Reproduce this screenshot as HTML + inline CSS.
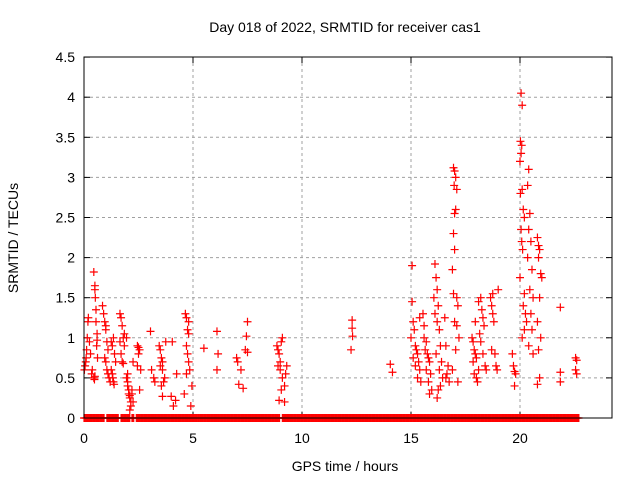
<!DOCTYPE html>
<html><head><meta charset="utf-8"><style>
body{margin:0;background:#fff}
svg text{font-family:"Liberation Sans",sans-serif;font-size:14px;fill:#000}
</style></head><body>
<svg id="c" width="640" height="480">
<text x="345" y="32" text-anchor="middle">Day 018 of 2022, SRMTID for receiver cas1</text>
<text x="345" y="471" text-anchor="middle">GPS time / hours</text>
<text transform="translate(18,238) rotate(-90)" text-anchor="middle">SRMTID / TECUs</text>
<g id="grid"></g><g id="pts"></g>
<rect x="84" y="57" width="528" height="361" fill="none" stroke="#000"/>
</svg>
<script>
const xTicks=[0,5,10,15,20];
const yTicks=[0,0.5,1,1.5,2,2.5,3,3.5,4,4.5];
const yTickLabels=["0","0.5","1","1.5","2","2.5","3","3.5","4","4.5"];
const hours=[0.02,0.05,0.08,0.1,0.12,0.15,0.18,0.2,0.25,0.3,0.35,0.38,
0.45,0.5,0.5,0.52,0.55,0.55,0.6,0.6,0.62,0.45,0.48,0.5,0.58,
0.85,0.9,0.95,1.0,1.05,1.1,1.0,1.05,1.1,1.15,1.2,0.95,1.0,
1.25,1.3,1.32,1.35,1.38,1.3,1.35,1.4,1.45,1.25,
1.65,1.7,1.75,1.8,1.85,1.7,1.75,1.8,1.65,1.85,
1.95,2.0,2.0,2.05,2.05,2.1,2.1,2.15,2.15,2.1,2.2,2.2,2.25,2.0,1.95,2.25,
2.45,2.5,2.55,2.5,2.6,2.45,2.55,
3.05,3.1,3.2,3.25,
3.45,3.5,3.55,3.6,3.5,3.6,3.7,3.65,3.55,3.6,3.75,
4.0,4.1,4.2,4.05,4.25,
4.65,4.7,4.75,4.8,4.7,4.75,4.8,4.85,4.7,4.6,4.9,4.95,4.8,
5.5,6.1,6.15,6.1,7.0,7.05,7.2,7.1,7.3,7.5,7.45,7.4,7.5,
8.85,8.9,8.95,9.0,8.9,9.0,9.1,9.05,8.95,9.2,9.1,9.05,9.3,9.25,9.2,
12.3,12.3,12.32,12.25,14.05,14.15,
15.05,15.05,15.1,15.15,15.0,15.2,15.25,15.3,15.1,15.35,15.2,15.4,15.3,15.45,15.4,
15.55,15.6,15.7,15.65,15.75,15.8,15.85,15.7,15.9,15.8,15.95,15.85,15.6,
16.1,16.15,16.2,16.05,16.25,16.1,16.2,16.3,16.35,16.15,16.4,16.3,16.45,16.35,16.25,16.2,
16.55,16.6,16.7,16.65,16.6,16.75,
16.95,17.0,17.05,16.98,17.1,17.05,17.0,16.95,17.0,16.9,17.1,16.95,17.15,17.0,17.1,17.2,17.05,16.9,17.15,
17.8,17.85,17.9,17.95,18.0,17.85,18.1,17.9,18.0,18.05,17.95,18.15,
18.1,18.2,18.25,18.3,18.35,18.2,18.3,18.4,18.45,
18.65,18.7,18.75,18.8,18.7,18.85,18.9,18.95,19.0,18.75,
19.7,19.75,19.8,19.75,19.65,
20.05,20.1,20.02,20.08,20.05,20.0,20.1,20.02,20.15,20.2,20.05,20.08,20.12,20.0,20.2,20.15,20.25,20.3,20.2,20.1,
20.4,20.35,20.45,20.4,20.5,20.35,20.55,20.45,20.6,20.5,20.55,20.4,20.6,
20.8,20.85,20.9,20.85,20.95,21.0,20.9,20.8,20.95,20.85,20.9,20.8,
21.85,21.85,21.85,22.55,22.6,22.55,22.6];
const values=[0.6,0.65,0.7,0.75,0.85,1.0,1.2,1.25,0.95,0.8,0.55,0.6,
1.82,1.65,1.6,1.5,1.35,1.2,1.05,0.97,0.75,0.5,0.48,0.52,0.9,
1.4,1.3,1.2,1.1,0.95,0.85,0.7,0.6,0.55,0.5,0.45,0.75,1.15,
0.6,0.55,0.5,0.45,0.42,0.9,1.0,0.8,0.7,0.95,
1.3,1.25,1.15,1.0,0.9,0.8,0.7,0.68,0.95,1.05,
0.5,0.45,0.4,0.35,0.3,0.28,0.25,0.2,0.15,0.1,0.3,0.35,0.2,0.55,1.0,0.7,
0.9,0.88,0.85,0.8,0.6,0.65,0.35,
1.08,0.6,0.5,0.45,
0.9,0.85,0.75,0.7,0.65,0.6,0.5,0.45,0.4,0.27,0.95,
0.27,0.15,0.22,0.95,0.55,
1.3,1.25,1.1,1.05,0.9,0.8,0.7,0.6,0.55,0.3,0.15,0.4,1.2,
0.87,1.08,0.8,0.6,0.75,0.7,0.6,0.42,0.37,1.2,1.02,0.85,0.82,
0.9,0.85,0.8,0.7,0.65,0.6,0.5,0.35,0.22,0.2,1.0,0.95,0.65,0.55,0.4,
1.22,1.12,1.02,0.85,0.67,0.57,
1.9,1.45,1.2,1.1,1.0,0.9,0.85,0.8,0.75,0.7,0.65,0.6,0.5,0.45,1.25,
1.3,1.0,0.95,0.85,0.8,0.75,0.7,0.6,0.55,0.45,0.35,0.3,1.15,
1.92,1.75,1.6,1.5,1.4,1.3,1.2,1.1,0.9,0.8,0.7,0.6,0.5,0.4,0.35,0.25,
1.25,0.9,0.65,0.55,0.5,0.45,
3.12,3.08,3.0,2.9,2.85,2.6,2.55,2.3,2.1,1.85,1.5,1.55,1.4,1.2,1.15,1.0,0.85,0.6,0.45,
1.0,0.95,0.85,0.8,0.75,0.7,0.6,0.55,0.5,0.45,1.2,1.05,
1.45,1.5,1.35,1.25,1.15,0.95,0.8,0.65,0.6,
1.5,1.4,1.3,1.2,0.85,0.8,0.65,0.6,1.6,1.55,
0.65,0.58,0.55,0.4,0.8,
4.05,3.9,3.45,3.4,3.3,3.2,2.85,2.8,2.6,2.5,2.35,2.2,2.1,1.75,1.55,1.4,1.3,1.2,1.1,1.0,
3.1,2.9,2.55,2.35,2.2,2.0,1.85,1.6,1.5,1.3,1.1,0.9,0.8,
2.25,2.15,2.1,2.0,1.8,1.75,1.5,1.2,1.0,0.85,0.5,0.42,
1.38,0.57,0.45,0.75,0.72,0.6,0.55];
const zeroStarts=[0,1.05,1.7,2.2,2.4,5.25,9.1];
const zeroEnds=[0.95,1.6,2.1,2.3,5.2,9.0,22.7];
const X=h=>84+h*21.8, Y=v=>418-v*80.2;
const NS="http://www.w3.org/2000/svg";
const g=document.getElementById('grid'), p=document.getElementById('pts');
function mk(tag,at,par){const e=document.createElementNS(NS,tag);for(const k in at)e.setAttribute(k,at[k]);par.appendChild(e);return e;}
yTicks.forEach((t,i)=>{const y=Y(t);
 if(t>0&&t<4.5){const l=mk('line',{x1:84,x2:612,y1:y,y2:y,stroke:'#a0a0a0','stroke-dasharray':'3,3'},g);
 
 }
 mk('line',{x1:84,x2:90,y1:y,y2:y,stroke:'#000'},g);mk('line',{x1:606,x2:612,y1:y,y2:y,stroke:'#000'},g);
 const tx=mk('text',{x:75,y:y+5,'text-anchor':'end'},g);tx.textContent=yTickLabels[i];
 
 });
xTicks.forEach(t=>{const x=X(t);
 if(t>0){const l=mk('line',{x1:x,x2:x,y1:57,y2:418,stroke:'#a0a0a0','stroke-dasharray':'3,3'},g);
 
 }
 mk('line',{x1:x,x2:x,y1:418,y2:412,stroke:'#000'},g);mk('line',{x1:x,x2:x,y1:57,y2:63,stroke:'#000'},g);
 const tx=mk('text',{x:x,y:443,'text-anchor':'middle'},g);tx.textContent=String(t);
 
 });
function plus(h,v,name){const x=X(h),y=Y(v);
 const e=mk('path',{d:`M${x-4},${y}h8M${x},${y-4}v8`,stroke:'#f00','stroke-width':1.2,fill:'none'},p);
 
 }
zeroStarts.forEach((s,i)=>{for(let h=s;h<=zeroEnds[i]+1e-9;h+=0.04)plus(h,0,'zero-point');});
hours.forEach((h,i)=>plus(h,values[i],'data-point'));
</script>
</body></html>
